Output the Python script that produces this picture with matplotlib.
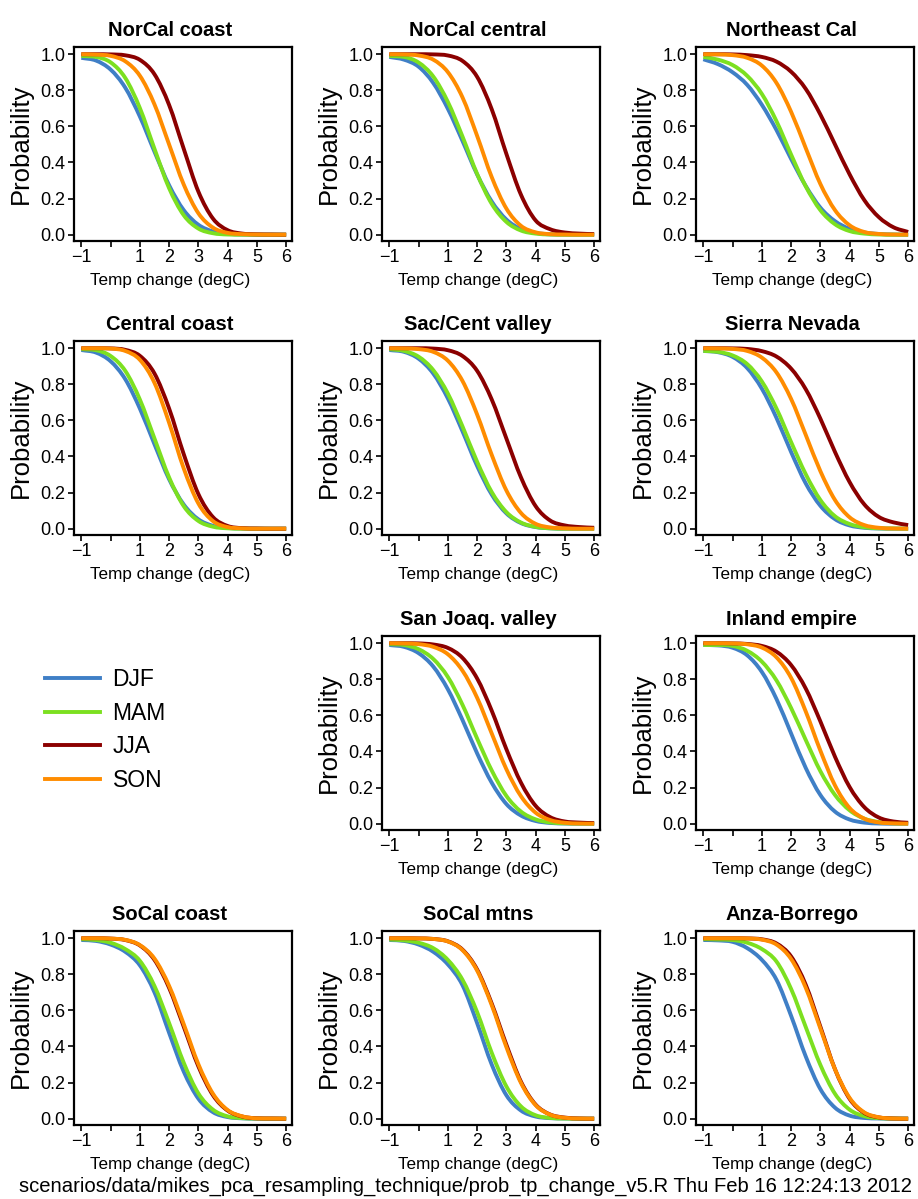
import matplotlib
matplotlib.use('Agg')
import matplotlib.pyplot as plt
from matplotlib.lines import Line2D
from matplotlib.path import Path
from matplotlib.patches import PathPatch

plt.rcParams['font.family'] = ['Liberation Sans', 'DejaVu Sans']

# ---------------- data ----------------
temp = [-1, -0.5, 0, 0.5, 1, 1.5, 2, 2.5, 3, 3.5, 4, 4.5, 5, 5.5, 6]
seasons = ['DJF', 'MAM', 'JJA', 'SON']
season_colors = ['#3F7FC6', '#7CE020', '#8B0000', '#FF8C00']
xtick_vals = [-1, 0, 1, 2, 3, 4, 5, 6]
xtick_labels = ['\u22121', '', '1', '2', '3', '4', '5', '6']
ytick_vals = [0.0, 0.2, 0.4, 0.6, 0.8, 1.0]
ytick_labels = ['0.0', '0.2', '0.4', '0.6', '0.8', '1.0']

norcal_coast_djf = [.98, .965, .915, .815, .655, .46, .274, .136, .055, .018, .005, .001, 0, 0, 0]
norcal_coast_mam = [.99, .985, .955, .869, .702, .476, .258, .108, .034, .008, .001, 0, 0, 0, 0]
norcal_coast_jja = [1, 1, .999, .994, .969, .889, .719, .476, .239, .089, .025, .006, .002, .001, 0]
norcal_coast_son = [1, .998, .991, .961, .881, .722, .5, .278, .119, .039, .01, .003, .001, 0, 0]

norcal_central_djf = [.985, .97, .931, .841, .698, .52, .334, .184, .084, .031, .01, .002, .001, 0, 0]
norcal_central_mam = [.99, .985, .954, .877, .736, .544, .337, .171, .071, .023, .006, .001, 0, 0, 0]
norcal_central_jja = [1, 1, 1, .999, .993, .963, .875, .695, .448, .221, .079, .03, .012, .006, .003]
norcal_central_son = [1, .999, .993, .97, .901, .761, .548, .319, .145, .049, .013, .003, .001, 0, 0]

northeast_cal_djf = [.972, .945, .9, .83, .72, .58, .42, .27, .15, .075, .032, .012, .004, .001, 0]
northeast_cal_mam = [.985, .97, .94, .88, .78, .629, .444, .268, .136, .058, .02, .006, .001, 0, 0]
northeast_cal_jja = [1, 1, .999, .995, .985, .959, .903, .808, .666, .5, .334, .192, .097, .041, .015]
northeast_cal_son = [1, .999, .995, .98, .937, .841, .681, .48, .281, .136, .052, .015, .004, .001, 0]

central_coast_djf = [.99, .976, .928, .829, .666, .468, .274, .134, .052, .016, .004, .001, 0, 0, 0]
central_coast_mam = [.995, .989, .957, .875, .716, .5, .284, .125, .043, .011, .002, 0, 0, 0, 0]
central_coast_jja = [1, 1, .999, .991, .958, .86, .666, .413, .192, .064, .015, .003, .001, 0, 0]
central_coast_son = [1, 1, .998, .985, .936, .808, .587, .334, .14, .042, .009, .002, 0, 0, 0]

sac_valley_djf = [.99, .98, .942, .86, .722, .54, .348, .189, .085, .031, .009, .002, 0, 0, 0]
sac_valley_mam = [.995, .985, .953, .879, .749, .567, .371, .203, .092, .034, .01, .002, 0, 0, 0]
sac_valley_jja = [1, 1, 1, .998, .989, .957, .875, .716, .5, .284, .125, .045, .018, .009, .005]
sac_valley_son = [1, .999, .995, .98, .931, .819, .633, .409, .212, .087, .027, .007, .002, 0, 0]

sierra_djf = [.985, .978, .952, .89, .776, .614, .425, .251, .127, .053, .018, .005, .001, 0, 0]
sierra_mam = [.985, .98, .96, .912, .816, .666, .48, .302, .159, .069, .026, .008, .002, .001, 0]
sierra_jja = [1, 1, .999, .996, .984, .954, .887, .773, .61, .425, .258, .135, .065, .035, .02]
sierra_son = [1, .999, .996, .985, .948, .866, .719, .52, .319, .159, .063, .02, .005, .001, 0]

sanjoaq_djf = [.99, .98, .945, .871, .745, .575, .39, .227, .109, .045, .015, .004, .001, 0, 0]
sanjoaq_mam = [.995, .99, .967, .913, .813, .659, .472, .295, .154, .067, .024, .007, .002, .001, 0]
sanjoaq_jja = [1, 1, .999, .993, .974, .919, .805, .626, .413, .227, .099, .036, .012, .006, .003]
sanjoaq_son = [1, .999, .995, .98, .939, .848, .698, .5, .302, .152, .061, .02, .005, .001, 0]

inland_djf = [.99, .988, .975, .933, .841, .691, .5, .309, .159, .067, .023, .006, .001, 0, 0]
inland_mam = [.99, .99, .985, .958, .898, .794, .641, .464, .291, .159, .074, .028, .009, .002, .001]
inland_jja = [1, 1, .999, .996, .985, .953, .879, .749, .567, .371, .203, .092, .034, .012, .005]
inland_son = [1, 1, .999, .994, .976, .922, .808, .622, .405, .212, .087, .028, .007, .002, 0]

socal_coast_djf = [.99, .985, .965, .925, .85, .70, .476, .261, .111, .036, .009, .002, 0, 0, 0]
socal_coast_mam = [.995, .99, .975, .94, .875, .735, .53, .31, .14, .05, .013, .003, .001, 0, 0]
socal_coast_jja = [1, 1, .998, .99, .96, .88, .725, .51, .29, .13, .045, .012, .002, .001, 0]
socal_coast_son = [1, 1, .998, .991, .962, .887, .736, .524, .302, .138, .048, .013, .002, .001, 0]

socal_mtns_djf = [.99, .985, .965, .925, .855, .74, .53, .30, .13, .045, .012, .003, .001, 0, 0]
socal_mtns_mam = [.993, .988, .975, .945, .88, .77, .591, .365, .179, .068, .019, .004, .001, 0, 0]
socal_mtns_jja = [1, 1, .999, .996, .983, .937, .827, .638, .41, .205, .078, .023, .006, .001, 0]
socal_mtns_son = [1, 1, .999, .996, .982, .934, .821, .629, .397, .198, .075, .022, .005, .001, 0]

anza_djf = [.99, .988, .98, .945, .88, .77, .57, .345, .164, .061, .017, .004, .001, 0, 0]
anza_mam = [.995, .993, .99, .975, .94, .871, .719, .508, .298, .138, .05, .014, .003, .001, 0]
anza_jja = [1, 1, 1, .999, .994, .971, .899, .742, .51, .274, .11, .032, .007, .001, 0]
anza_son = [1, 1, 1, .999, .992, .965, .885, .726, .5, .274, .115, .035, .008, .001, 0]

panels = [
    (0, 0, 'NorCal coast', [norcal_coast_djf, norcal_coast_mam, norcal_coast_jja, norcal_coast_son]),
    (0, 1, 'NorCal central', [norcal_central_djf, norcal_central_mam, norcal_central_jja, norcal_central_son]),
    (0, 2, 'Northeast Cal', [northeast_cal_djf, northeast_cal_mam, northeast_cal_jja, northeast_cal_son]),
    (1, 0, 'Central coast', [central_coast_djf, central_coast_mam, central_coast_jja, central_coast_son]),
    (1, 1, 'Sac/Cent valley', [sac_valley_djf, sac_valley_mam, sac_valley_jja, sac_valley_son]),
    (1, 2, 'Sierra Nevada', [sierra_djf, sierra_mam, sierra_jja, sierra_son]),
    (2, 1, 'San Joaq. valley', [sanjoaq_djf, sanjoaq_mam, sanjoaq_jja, sanjoaq_son]),
    (2, 2, 'Inland empire', [inland_djf, inland_mam, inland_jja, inland_son]),
    (3, 0, 'SoCal coast', [socal_coast_djf, socal_coast_mam, socal_coast_jja, socal_coast_son]),
    (3, 1, 'SoCal mtns', [socal_mtns_djf, socal_mtns_mam, socal_mtns_jja, socal_mtns_son]),
    (3, 2, 'Anza-Borrego', [anza_djf, anza_mam, anza_jja, anza_son]),
]

footer = 'scenarios/data/mikes_pca_resampling_technique/prob_tp_change_v5.R Thu Feb 16 12:24:13 2012'


def smooth_path(xs, ys):
    """Monotone cubic (Fritsch-Carlson) Bezier path through the data points."""
    n = len(xs)
    h = [xs[k + 1] - xs[k] for k in range(n - 1)]
    d = [(ys[k + 1] - ys[k]) / h[k] for k in range(n - 1)]
    m = [0.0] * n
    m[0], m[-1] = d[0], d[-1]
    for k in range(1, n - 1):
        m[k] = 0.0 if d[k - 1] * d[k] <= 0 else (d[k - 1] + d[k]) / 2
    for k in range(n - 1):
        if d[k] == 0:
            m[k] = m[k + 1] = 0.0
        else:
            a, b = m[k] / d[k], m[k + 1] / d[k]
            s = a * a + b * b
            if s > 9:
                t = 3 / s ** 0.5
                m[k], m[k + 1] = t * a * d[k], t * b * d[k]
    verts = [(xs[0], ys[0])]
    codes = [Path.MOVETO]
    for k in range(n - 1):
        verts += [(xs[k] + h[k] / 3, ys[k] + m[k] * h[k] / 3),
                  (xs[k + 1] - h[k] / 3, ys[k + 1] - m[k + 1] * h[k] / 3),
                  (xs[k + 1], ys[k + 1])]
        codes += [Path.CURVE4] * 3
    return Path(verts, codes)


# ---------------- layout ----------------
W, H = 918, 1199
fig = plt.figure(figsize=(W / 100, H / 100), dpi=100)
col_left = [74, 382, 696]
row_top = [47, 341, 636, 931]
aw, ah = 218, 194

for r, c, name, series in panels:
    ax = fig.add_axes([col_left[c] / W, 1 - (row_top[r] + ah) / H, aw / W, ah / H])
    for vals, col in zip(series, season_colors):
        ax.add_patch(PathPatch(smooth_path(temp, vals), fill=False, edgecolor=col,
                               lw=2.8, capstyle='butt', joinstyle='round'))
    ax.set_xlim(-1.25, 6.2)
    ax.set_ylim(-0.035, 1.04)
    ax.set_xticks(xtick_vals)
    ax.set_xticklabels(xtick_labels)
    ax.set_yticks(ytick_vals)
    ax.set_yticklabels(ytick_labels)
    ax.tick_params(direction='out', length=4, width=1.2, labelsize=13, pad=2, colors='black')
    for sp in ax.spines.values():
        sp.set_linewidth(1.6)
    ax.set_title(name, fontweight='bold', fontsize=14.5, pad=8, x=0.44)
    ax.set_xlabel('Temp change (degC)', fontsize=12.3)
    ax.xaxis.set_label_coords(0.44, -0.165)
    ax.set_ylabel('Probability', fontsize=18.5)
    ax.yaxis.set_label_coords(-0.19, 0.5)

handles = [Line2D([], [], color=col, lw=2.8) for col in season_colors]
fig.legend(handles, seasons, loc='center left', bbox_to_anchor=(45 / W, 1 - 730 / H),
           frameon=False, fontsize=16.5, handlelength=2.4, handletextpad=0.55,
           labelspacing=0.46, borderaxespad=0, borderpad=0)

fig.text(912 / W, 1 - 1186 / H, footer, ha='right', va='center', fontsize=14.6)

fig.savefig('out.png', dpi=100)
